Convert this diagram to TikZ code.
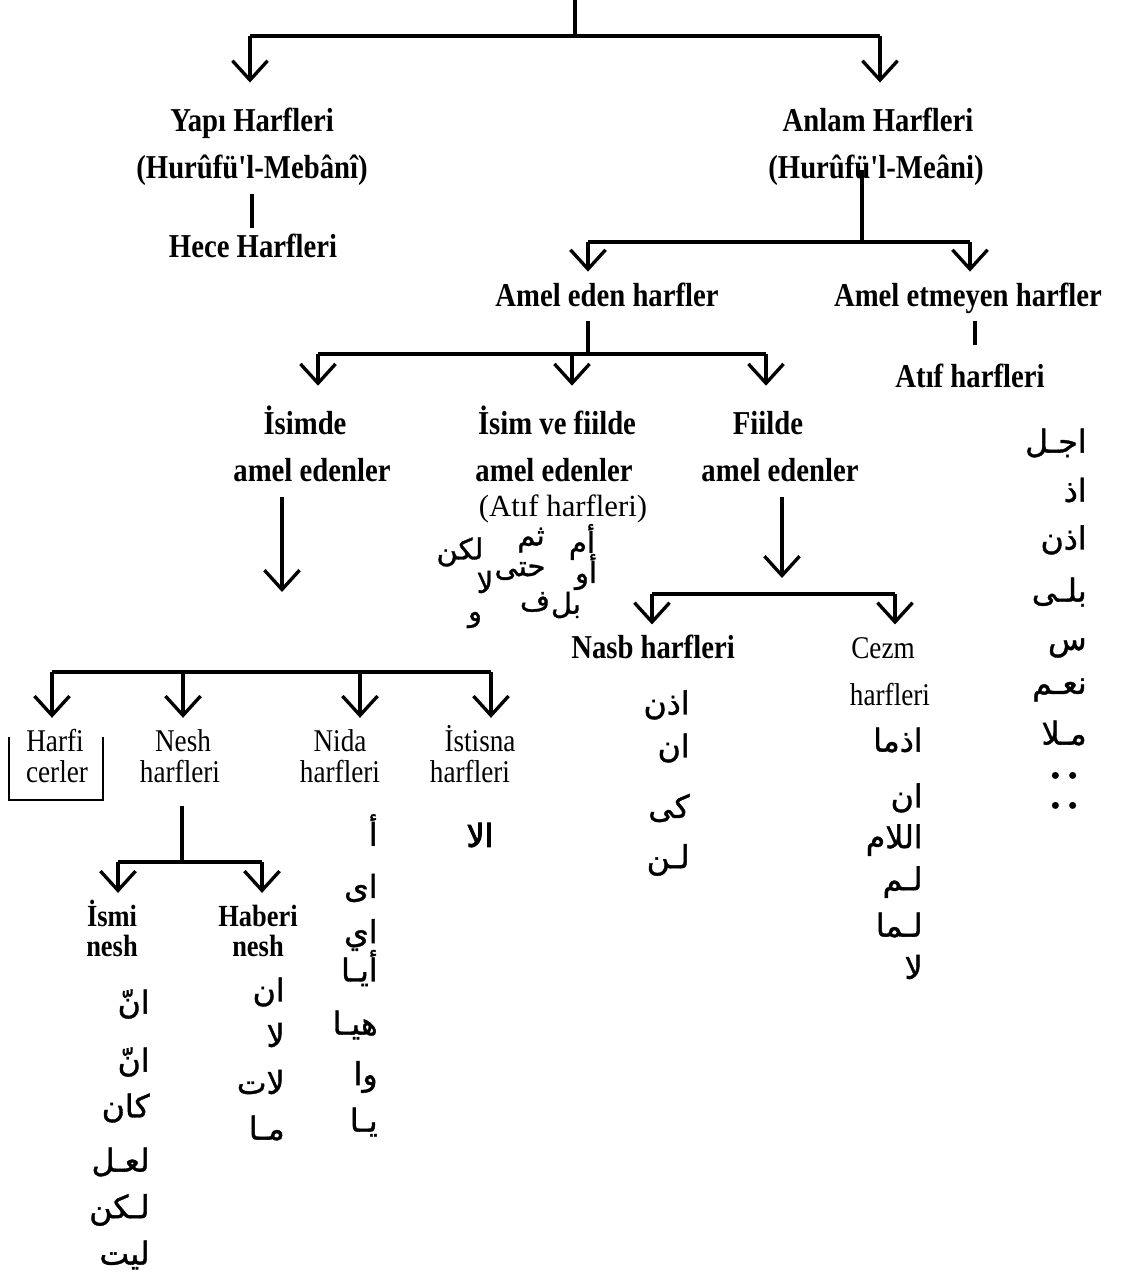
\documentclass[tikz,border=0pt]{standalone}
\usepackage{fontspec}
\setmainfont{Liberation Serif}
\newfontfamily\narrowrm[FakeStretch=0.86]{Liberation Serif}
\newfontfamily\arabfont[Script=Arabic,FakeBold=1.2]{DejaVu Sans}
\newfontfamily\arabbold[Script=Arabic,FakeBold=3]{DejaVu Sans}
\TeXXeTstate=1
\usetikzlibrary{arrows.meta,calc}
\tikzset{
  hlab/.style={font=\narrowrm\bfseries\fontsize{19}{22}\selectfont,inner sep=1pt,anchor=base},
  plab/.style={font=\fontsize{17.5}{20}\selectfont,inner sep=1pt,anchor=base},
  slab/.style={font=\narrowrm\fontsize{18}{20}\selectfont,inner sep=1pt,anchor=base},
  sblab/.style={font=\narrowrm\bfseries\fontsize{17.5}{20}\selectfont,inner sep=1pt,anchor=base},
  arb/.style={font=\arabfont\fontsize{18}{20}\selectfont,inner sep=0pt},
  arc/.style={font=\arabfont\fontsize{16.5}{18}\selectfont,inner sep=0pt},
  conn/.style={line width=1.9pt,draw=black},
  arr/.style={conn,-{Straight Barb[length=11pt,width=20pt]}},
  boxl/.style={line width=1.4pt,draw=black},
}

\begin{document}
\begin{tikzpicture}[x=0.02cm,y=-0.02cm]
  \fill[white] (0,0) rectangle (1130,1285);
  \useasboundingbox (0,0) rectangle (1130,1285);

  % labels
  \node[hlab] (yapi) at (252,131) {Yapı Harfleri};
  \node[hlab] (yapih) at (252,178) {(Hurûfü'l-Mebânî)};
  \node[hlab] (hece) at (253,257) {Hece Harfleri};
  \node[hlab] (anlam) at (878,131) {Anlam Harfleri};
  \node[hlab] (anlamh) at (876,178) {(Hurûfü'l-Meâni)};
  \node[hlab] (amel) at (607,306) {Amel eden harfler};
  \node[hlab] (amelno) at (968,306) {Amel etmeyen harfler};
  \node[hlab] (atif) at (970,387) {Atıf harfleri};
  \node[hlab] (isim) at (305,434) {İsimde};
  \node[hlab] (isim2) at (312,481) {amel edenler};
  \node[hlab] (both) at (557,434) {İsim ve fiilde};
  \node[hlab] (both2) at (554,481) {amel edenler};
  \node[plab] (atifp) at (563,516) {(Atıf harfleri)};
  \node[hlab] (fiil) at (768,434) {Fiilde};
  \node[hlab] (fiil2) at (780,481) {amel edenler};
  \node[hlab] (nasb) at (653,658) {Nasb harfleri};
  \node[slab] (cezm) at (883,658) {Cezm};
  \node[slab] (cezm2) at (890,705) {harfleri};
  \node[slab] (harfi) at (55,751) {Harfi};
  \node[slab] (harfi2) at (57,782) {cerler};
  \node[slab] (nesh) at (183,751) {Nesh};
  \node[slab] (nesh2) at (180,782) {harfleri};
  \node[slab] (nida) at (340,751) {Nida};
  \node[slab] (nida2) at (340,782) {harfleri};
  \node[slab] (istisna) at (480,751) {İstisna};
  \node[slab] (istisna2) at (470,782) {harfleri};
  \node[sblab] (ismi) at (112,926) {İsmi};
  \node[sblab] (ismi2) at (112,956) {nesh};
  \node[sblab] (haberi) at (258,926) {Haberi};
  \node[sblab] (haberi2) at (258,956) {nesh};

  % junctions
  \coordinate (top) at (575,0);
  \coordinate (j0) at (575,36);
  \coordinate (j1) at (250,36);
  \coordinate (j2) at (880,36);
  \coordinate (b0) at (862,242);
  \coordinate (b1) at (588,242);
  \coordinate (b2) at (970,242);
  \coordinate (c0) at (588,354);
  \coordinate (c1) at (318,354);
  \coordinate (c2) at (572,354);
  \coordinate (c3) at (766,354);
  \coordinate (tipA) at (282,592);
  \coordinate (tipB) at (782,578);
  \coordinate (d1) at (652,594);
  \coordinate (d2) at (895,594);
  \coordinate (e1) at (52,672);
  \coordinate (e2) at (183,672);
  \coordinate (e3) at (360,672);
  \coordinate (e4) at (491,672);
  \coordinate (f0) at (182,862);
  \coordinate (f1) at (118,862);
  \coordinate (f2) at (262,862);

  % connectors
  \draw[conn] (top) -- (j0);
  \draw[conn] (j1) -- (j2);
  \draw[arr,shorten >=13pt] (j1) -- (j1 |- yapi.north);
  \draw[arr,shorten >=13pt] (j2) -- (j2 |- anlam.north);
  \draw[conn,shorten <=4pt,shorten >=2pt] (yapih.south) -- (yapih.south |- hece.north);
  \draw[conn] (b0 |- anlamh.center) -- (b0);
  \draw[conn] (b1) -- (b2);
  \draw[arr,shorten >=5pt] (b1) -- (b1 |- amel.north);
  \draw[arr,shorten >=5pt] (b2) -- (b2 |- amel.north);
  \draw[conn,shorten <=7pt] (c0 |- amel.south) -- (c0);
  \draw[conn,shorten <=3pt,shorten >=9.5pt] ([xshift=0.14cm]amelno.south) -- ([xshift=0.14cm]amelno.south |- atif.north);
  \draw[conn] (c1) -- (c3);
  \foreach \c in {c1,c2,c3}
    \draw[arr,shorten >=10pt] (\c) -- (\c |- isim.north);
  \draw[arr,shorten <=8pt] (tipA |- isim2.south) -- (tipA);
  \draw[arr,shorten <=8pt] (tipB |- fiil2.south) -- (tipB);
  \draw[conn] (d1) -- (d2);
  \draw[arr,shorten >=4.5pt] (d1) -- (d1 |- nasb.north);
  \draw[arr,shorten >=4.5pt] (d2) -- (d2 |- nasb.north);
  \draw[conn] (e1) -- (e4);
  \foreach \e in {e1,e2,e3,e4}
    \draw[arr,shorten >=5pt] (\e) -- (\e |- harfi.north);
  \draw[boxl] (9,737) |- (103,800) -- (103,737);
  \draw[conn,shorten <=12pt] (f0 |- nesh2.south) -- (f0);
  \draw[conn] (f1) -- (f2);
  \draw[arr,shorten >=5.5pt] (f1) -- (f1 |- haberi.north);
  \draw[arr,shorten >=5.5pt] (f2) -- (f2 |- haberi.north);

  % Arabic letters
  \node[arc] (w1) at (460,552) {\beginR لكن\endR};
  \node[arc] (w2) at (485,582) {\beginR لا\endR};
  \node[arc] (w3) at (531,540) {\beginR ثم\endR};
  \node[arc] (w4) at (520,571) {\beginR حتى\endR};
  \node[arc] (w5) at (582,542) {\beginR أم\endR};
  \node[arc] (w6) at (586,572) {\beginR أو\endR};
  \node[arc] (w7) at (566,605) {\beginR بل\endR};
  \node[arc] (w8) at (535,602) {\beginR ف\endR};
  \node[arc] (w9) at (475,620) {\beginR و\endR};

  \foreach \w/\y [count=\i] in {اذن/705,ان/748,كى/808,لـن/860}
    \node[arb,anchor=east] (ns\i) at (690,\y) {\beginR\w\endR};
  \foreach \w/\y [count=\i] in {اذما/740,ان/798,اللام/840,لـم/882,لـما/925,لا/967}
    \node[arb,anchor=east] (cz\i) at (923,\y) {\beginR\w\endR};
  \foreach \w/\y [count=\i] in {اجـل/443,اذ/490,اذن/540,بلـى/592,س/648,نعـم/690,مـلا/733}
    \node[arb,anchor=east] (rt\i) at (1087,\y) {\beginR\w\endR};
  \node[arb,font=\arabfont\fontsize{13}{14}\selectfont] (rd1) at (1064,778) {•\,•};
  \node[arb,font=\arabfont\fontsize{13}{14}\selectfont] (rd2) at (1064,808) {•\,•};
  \foreach \w/\y [count=\i] in {أ/830,اى/888,اي/935,أيـا/968,هيـا/1025,وا/1077,يـا/1122}
    \node[arb,anchor=east] (nd\i) at (378,\y) {\beginR\w\endR};
  \node[arb,font=\arabbold\fontsize{18}{20}\selectfont] (ist) at (480,835) {\beginR الا\endR};
  \foreach \w/\y [count=\i] in {انّ/1004,انّ/1062,كان/1108,لعـل/1162,لـكن/1210,ليت/1255}
    \node[arb,anchor=east] (is\i) at (150,\y) {\beginR\w\endR};
  \foreach \w/\y [count=\i] in {ان/992,لا/1035,لات/1082,مـا/1128}
    \node[arb,anchor=east] (hb\i) at (285,\y) {\beginR\w\endR};
\end{tikzpicture}
\end{document}
